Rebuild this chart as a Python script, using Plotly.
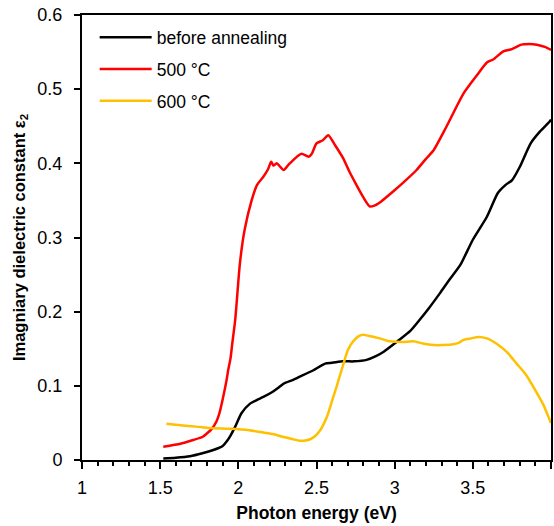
import plotly.graph_objects as go

# before annealing
x_before = [1.52, 1.60, 1.69, 1.77, 1.84, 1.90, 1.925, 1.95, 1.98, 2.02, 2.075, 2.12, 2.16, 2.22, 2.26,
            2.29, 2.35, 2.39, 2.48, 2.555, 2.60, 2.67, 2.74, 2.82, 2.88, 2.93, 3.03, 3.10, 3.16, 3.22,
            3.29, 3.35, 3.42, 3.50, 3.59, 3.66, 3.71, 3.75, 3.80, 3.87, 3.93, 3.99, 4.00]
y_before = [0.002, 0.003, 0.005, 0.009, 0.0135, 0.019, 0.025, 0.033, 0.045, 0.063, 0.076, 0.081, 0.085, 0.092, 0.098,
            0.103, 0.108, 0.112, 0.121, 0.130, 0.131, 0.133, 0.133, 0.135, 0.140, 0.146, 0.162, 0.174, 0.189, 0.205,
            0.225, 0.243, 0.263, 0.297, 0.328, 0.360, 0.371, 0.377, 0.395, 0.427, 0.443, 0.456, 0.459]

# 500 °C
x_500 = [1.52, 1.63, 1.71, 1.77, 1.80, 1.83, 1.86, 1.88, 1.90, 1.925, 1.935, 1.95, 1.96, 1.98, 2.01, 2.04,
         2.085, 2.12, 2.16, 2.19, 2.21, 2.225, 2.245, 2.29, 2.32, 2.35, 2.38, 2.405, 2.45, 2.47, 2.50, 2.54,
         2.575, 2.62, 2.67, 2.71, 2.75, 2.80, 2.84, 2.87, 2.91, 2.99, 3.06, 3.14, 3.20, 3.25, 3.33, 3.44,
         3.52, 3.59, 3.63, 3.695, 3.75, 3.81, 3.86, 3.91, 3.96, 4.00]
y_500 = [0.018, 0.022, 0.027, 0.031, 0.036, 0.042, 0.052, 0.064, 0.082, 0.108, 0.121, 0.137, 0.155, 0.189, 0.265, 0.310,
         0.350, 0.371, 0.382, 0.392, 0.402, 0.397, 0.400, 0.391, 0.398, 0.404, 0.410, 0.413, 0.409, 0.413, 0.427, 0.431,
         0.438, 0.424, 0.407, 0.389, 0.373, 0.354, 0.342, 0.343, 0.348, 0.362, 0.375, 0.391, 0.406, 0.418, 0.449, 0.494,
         0.517, 0.536, 0.540, 0.551, 0.554, 0.560, 0.561, 0.560, 0.557, 0.553]

# 600 °C
x_600 = [1.54, 1.63, 1.73, 1.82, 1.95, 2.07, 2.16, 2.22, 2.29, 2.35, 2.39, 2.42, 2.46, 2.49, 2.52, 2.54,
         2.57, 2.60, 2.63, 2.67, 2.70, 2.735, 2.77, 2.80, 2.82, 2.885, 2.95, 2.97, 3.05, 3.12, 3.18, 3.25,
         3.31, 3.375, 3.41, 3.44, 3.49, 3.535, 3.59, 3.65, 3.72, 3.78, 3.84, 3.90, 3.95, 3.99, 4.00]
y_600 = [0.049, 0.047, 0.045, 0.043, 0.042, 0.040, 0.037, 0.035, 0.031, 0.028, 0.026, 0.026, 0.028, 0.032, 0.039, 0.046,
         0.060, 0.080, 0.100, 0.128, 0.148, 0.160, 0.167, 0.169, 0.168, 0.165, 0.161, 0.160, 0.159, 0.160, 0.157, 0.155,
         0.155, 0.156, 0.158, 0.162, 0.164, 0.166, 0.164, 0.157, 0.145, 0.130, 0.115, 0.094, 0.075, 0.055, 0.050]

font_family = "Liberation Sans, Arial, sans-serif"

fig = go.Figure()
series = [
    ("before annealing", x_before, y_before, "#000000"),
    ("500 °C", x_500, y_500, "#FF0000"),
    ("600 °C", x_600, y_600, "#FFC000"),
]
for name, xs, ys, col in series:
    fig.add_trace(go.Scatter(x=xs, y=ys, mode="lines", name=name, legendgroup=name,
                             line=dict(color=col, width=2.5, shape="spline", smoothing=0.6)))

fig.update_layout(
    width=554, height=526,
    margin=dict(l=82, r=3, t=15, b=66),
    paper_bgcolor="white", plot_bgcolor="white",
    font=dict(family=font_family, size=16, color="black"),
    legend=dict(x=0.027, y=0.99, xanchor="left", yanchor="top",
                bgcolor="rgba(0,0,0,0)", font=dict(size=17.5),
                traceorder="grouped", tracegroupgap=6, itemwidth=52),
    xaxis=dict(range=[1, 4], dtick=0.5, tick0=1, showline=True, linecolor="black", linewidth=2,
               mirror=True, ticks="outside", ticklen=7, tickwidth=2, tickcolor="black",
               showgrid=False, zeroline=False, automargin=False, ticklabelstandoff=3,
               minor=dict(dtick=0.1, ticks="outside", ticklen=4, tickwidth=1.5, tickcolor="black", showgrid=False),
               title=dict(text="<b>Photon energy (eV)</b>", font=dict(size=17.5), standoff=10),
               tickfont=dict(size=18)),
    yaxis=dict(range=[0, 0.6], dtick=0.1, showline=True, linecolor="black", linewidth=2,
               mirror=True, ticks="outside", ticklen=6, tickwidth=2, tickcolor="black",
               showgrid=False, zeroline=False, tickformat="~g", automargin=False, ticklabelstandoff=8,
               title=dict(text="<b>Imagniary dielectric constant ε<sub>2</sub></b>", font=dict(size=16.5), standoff=8),
               tickfont=dict(size=18)),
)

fig.write_html("out.html")
